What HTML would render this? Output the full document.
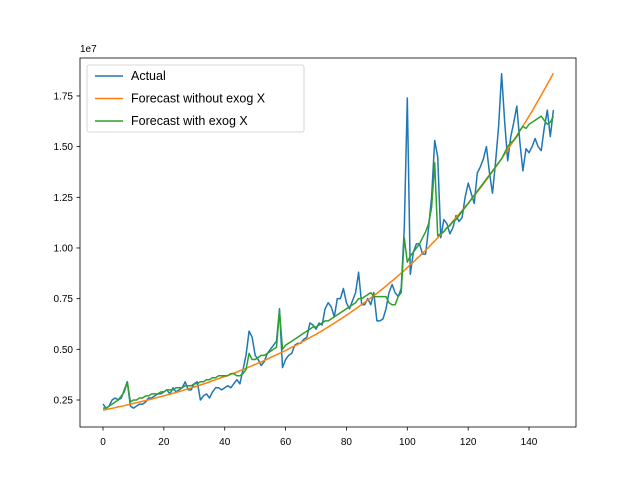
<!DOCTYPE html>
<html><head><meta charset="utf-8"><style>
body{margin:0;background:#fff;}
svg{display:block;font-family:"Liberation Sans","DejaVu Sans",sans-serif;}
</style></head><body>
<svg id="chart" width="640" height="480"></svg>
<script>
const actual=[.23,.21,.22,.25,.26,.25,.26,.30,.34,.22,.21,.22,.23,.23,.24,.26,.26,.27,.28,.28,.29,.30,.28,.31,.29,.30,.31,.34,.30,.30,.33,.34,.25,.27,.28,.26,.29,.31,.31,.30,.31,.32,.31,.33,.35,.33,.40,.47,.59,.56,.47,.45,.42,.44,.48,.50,.52,.54,.70,.41,.45,.47,.48,.52,.53,.53,.55,.56,.63,.62,.60,.63,.62,.70,.73,.71,.66,.75,.75,.80,.73,.70,.74,.78,.88,.72,.72,.75,.72,.78,.64,.64,.65,.70,.78,.82,.78,.76,.80,1.10,1.74,.87,.98,1.02,1.02,.97,.97,1.10,1.25,1.53,1.45,1.05,1.14,1.12,1.07,1.10,1.16,1.13,1.15,1.25,1.32,1.27,1.22,1.37,1.40,1.44,1.50,1.37,1.27,1.42,1.60,1.86,1.62,1.43,1.55,1.62,1.70,1.52,1.38,1.49,1.47,1.50,1.54,1.50,1.48,1.59,1.68,1.55,1.68];
const forecastNoExog=[.200,.203,.206,.209,.212,.216,.219,.222,.226,.229,.233,.236,.240,.244,.247,.251,.255,.259,.263,.267,.270,.275,.279,.283,.287,.292,.296,.301,.305,.310,.314,.319,.324,.329,.334,.339,.345,.350,.355,.361,.365,.371,.377,.382,.388,.394,.400,.406,.413,.419,.425,.432,.438,.445,.452,.459,.466,.473,.480,.487,.494,.502,.510,.517,.525,.533,.541,.550,.558,.566,.574,.583,.592,.601,.610,.620,.629,.639,.648,.658,.668,.678,.689,.699,.710,.721,.732,.743,.754,.765,.776,.788,.800,.812,.825,.837,.850,.863,.876,.889,.903,.917,.931,.945,.959,.974,.988,1.003,1.019,1.034,1.050,1.066,1.082,1.099,1.115,1.132,1.150,1.167,1.185,1.203,1.220,1.239,1.258,1.277,1.296,1.316,1.336,1.357,1.377,1.398,1.420,1.441,1.463,1.485,1.508,1.531,1.554,1.578,1.602,1.626,1.650,1.675,1.701,1.727,1.753,1.780,1.807,1.834,1.862];
const forecastExog=[.21,.21,.22,.23,.24,.25,.27,.29,.34,.24,.25,.25,.26,.26,.27,.27,.28,.28,.28,.29,.29,.30,.30,.30,.31,.31,.31,.32,.32,.32,.33,.33,.34,.34,.35,.35,.36,.36,.37,.37,.37,.37,.38,.38,.37,.37,.38,.40,.48,.45,.45,.46,.47,.47,.48,.49,.50,.51,.69,.50,.52,.53,.54,.55,.56,.57,.58,.59,.60,.61,.61,.62,.63,.64,.64,.65,.66,.67,.68,.69,.70,.71,.72,.73,.75,.75,.76,.77,.78,.76,.76,.76,.76,.76,.73,.72,.72,.76,.78,1.05,.93,.96,.98,1.00,1.02,1.05,1.08,1.12,1.20,1.42,1.06,1.07,1.08,1.10,1.11,1.13,1.14,1.16,1.18,1.20,1.22,1.24,1.26,1.28,1.30,1.32,1.34,1.36,1.38,1.40,1.42,1.44,1.47,1.50,1.52,1.53,1.55,1.58,1.60,1.59,1.61,1.62,1.63,1.64,1.65,1.63,1.61,1.62,1.65];
const xTicks=[0,20,40,60,80,100,120,140];
const yTicks=[0.25,0.50,0.75,1.00,1.25,1.50,1.75];
const yTickLabels=["0.25","0.50","0.75","1.00","1.25","1.50","1.75"];

const NS="http://www.w3.org/2000/svg";
const svg=document.getElementById('chart');
const L=80,R=576,T=58,B=427;
function xs(i){return 103+3.043*i;}
function ys(v){return 400-(v-0.25)*202.7;}
function mk(tag,attrs,parent){const e=document.createElementNS(NS,tag);for(const k in attrs)e.setAttribute(k,attrs[k]);(parent||svg).appendChild(e);return e;}

function line(data,color,name){
  const p=mk('polyline',{points:data.map((v,i)=>xs(i).toFixed(1)+','+ys(v).toFixed(1)).join(' '),fill:'none',stroke:color,'stroke-width':1.5,'stroke-linejoin':'round'});
  
  
}
line(actual,'#1f77b4','actual-line');
line(forecastNoExog,'#ff7f0e','forecast-without-exog-line');
line(forecastExog,'#2ca02c','forecast-with-exog-line');

const frame=mk('rect',{x:L,y:T,width:R-L,height:B-T,fill:'none',stroke:'#000','stroke-width':0.8});



xTicks.forEach(t=>{
  const x=xs(t);
  mk('line',{x1:x,x2:x,y1:B,y2:B+3.5,stroke:'#000','stroke-width':0.8});
  const tx=mk('text',{x:x,y:B+18,'text-anchor':'middle','font-size':10});
  tx.textContent=t;
  
  
});
yTicks.forEach((t,i)=>{
  const y=ys(t);
  mk('line',{x1:L-3.5,x2:L,y1:y,y2:y,stroke:'#000','stroke-width':0.8});
  const tx=mk('text',{x:L-7,y:y+3.5,'text-anchor':'end','font-size':10});
  tx.textContent=yTickLabels[i];
  
  
});
const off=mk('text',{x:L,y:52,'font-size':10});
off.textContent='1e7';



const lg=mk('g',{});


mk('rect',{x:87,y:65,width:217,height:67,rx:2,fill:'#fff','fill-opacity':0.8,stroke:'#ccc','stroke-width':0.8},lg);
const entries=[['Actual','#1f77b4'],['Forecast without exog X','#ff7f0e'],['Forecast with exog X','#2ca02c']];
entries.forEach((e,i)=>{
  const y=76+i*22.5;
  const g=mk('g',{},lg);
  
  
  mk('line',{x1:95,x2:123,y1:y,y2:y,stroke:e[1],'stroke-width':1.5},g);
  const t=mk('text',{x:131,y:y+4,'font-size':12.5},g);
  t.textContent=e[0];
});
</script>
</body></html>
